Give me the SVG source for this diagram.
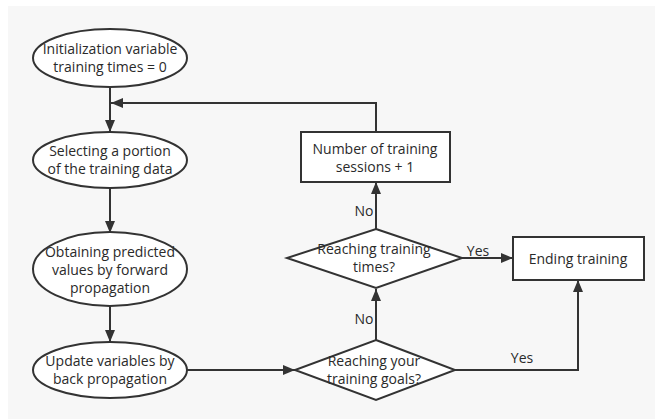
<svg xmlns="http://www.w3.org/2000/svg" width="655" height="419" viewBox="0 0 655 419">
  <style>
    .shape { fill: #ffffff; stroke: #333333; stroke-width: 2; }
    .edge { fill: none; stroke: #333333; stroke-width: 2; }
    text { font-family: "Open Sans", "Noto Sans", "Liberation Sans", sans-serif; font-size: 14px; fill: #2a2a2a; text-anchor: middle; }
  </style>
  <defs>
    <marker id="arrow" viewBox="0 0 12 10" refX="12" refY="5" markerWidth="6" markerHeight="5" orient="auto" markerUnits="strokeWidth">
      <path d="M0,0 L12,5 L0,10 z" fill="#333333"/>
    </marker>
  </defs>

  <!-- canvas -->
  <rect x="0" y="0" width="655" height="419" fill="#ffffff"/>
  <rect x="8" y="6" width="647" height="413" fill="#f7f7f7"/>

  <!-- connectors -->
  <g id="connectors">
    <path class="edge" d="M110,87 L110,132" marker-end="url(#arrow)"/>
    <path class="edge" d="M376,132 L376,103 L111,103" marker-end="url(#arrow)"/>
    <path class="edge" d="M110,188 L110,233" marker-end="url(#arrow)"/>
    <path class="edge" d="M110,306 L110,342" marker-end="url(#arrow)"/>
    <path class="edge" d="M187,370 L295,370" marker-end="url(#arrow)"/>
    <path class="edge" d="M376,340 L376,289" marker-end="url(#arrow)"/>
    <path class="edge" d="M376,229 L376,182" marker-end="url(#arrow)"/>
    <path class="edge" d="M462,258 L513,258" marker-end="url(#arrow)"/>
    <path class="edge" d="M455,370 L578,370 L578,280" marker-end="url(#arrow)"/>
    <text x="364" y="216">No</text>
    <text x="364" y="324">No</text>
    <text x="478" y="256">Yes</text>
    <text x="522" y="363">Yes</text>
  </g>

  <g id="init">
    <ellipse class="shape" cx="110" cy="58" rx="77" ry="29"/>
    <text x="110" y="54">Initialization variable</text>
    <text x="110" y="72">training times = 0</text>
  </g>

  <g id="select">
    <ellipse class="shape" cx="110" cy="160" rx="77" ry="28"/>
    <text x="110" y="156">Selecting a portion</text>
    <text x="110" y="174">of the training data</text>
  </g>

  <g id="forward">
    <ellipse class="shape" cx="110" cy="269" rx="77" ry="37"/>
    <text x="110" y="257">Obtaining predicted</text>
    <text x="110" y="275">values by forward</text>
    <text x="110" y="293">propagation</text>
  </g>

  <g id="backprop">
    <ellipse class="shape" cx="110" cy="370" rx="77" ry="28"/>
    <text x="110" y="366">Update variables by</text>
    <text x="110" y="384">back propagation</text>
  </g>

  <g id="goals">
    <polygon class="shape" points="376,340 455,370 376,400 295,370"/>
    <text x="374" y="366">Reaching your</text>
    <text x="374" y="384">training goals?</text>
  </g>

  <g id="times">
    <polygon class="shape" points="376,229 462,258 376,288 287,258"/>
    <text x="374" y="254">Reaching training</text>
    <text x="374" y="272">times?</text>
  </g>

  <g id="increment">
    <rect class="shape" x="301" y="132" width="149" height="50"/>
    <text x="375" y="154">Number of training</text>
    <text x="375" y="172">sessions + 1</text>
  </g>

  <g id="end">
    <rect class="shape" x="513" y="237" width="131" height="43"/>
    <text x="578" y="264">Ending training</text>
  </g>
</svg>
